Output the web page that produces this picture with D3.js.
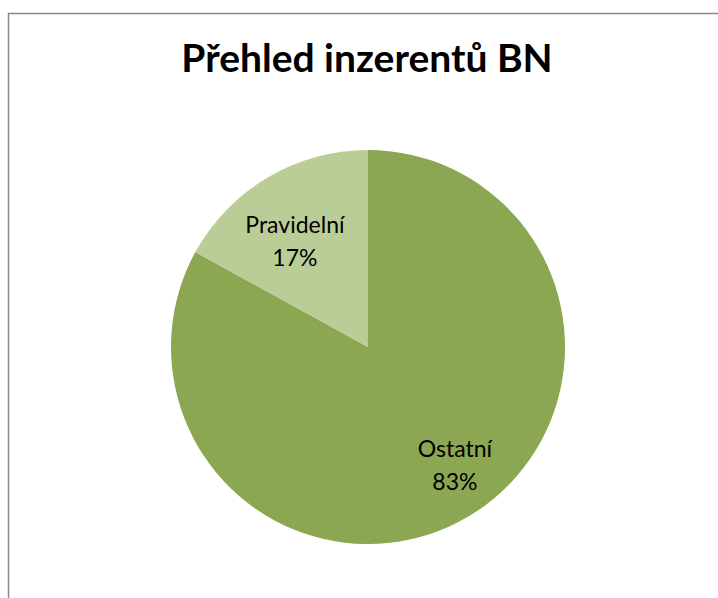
<!DOCTYPE html>
<html>
<head>
<meta charset="utf-8">
<script src="https://cdn.jsdelivr.net/npm/d3@7"></script>
<style>
  body { margin: 0; background: #fff; }
</style>
</head>
<body>
<script>
let width = 718;
let height = 598;

const title = 'Přehled inzerentů BN';
const categories = ['Ostatní', 'Pravidelní'];
const values = [83, 17];
const colors = ['#8ca751', '#bacd97'];

let svg = d3.select('body').append('svg')
	.attr('width', width)
	.attr('height', height);

// chart frame (runs past the picture on the right and bottom)
svg.append('rect')
	.attr('x', 8.5)
	.attr('y', 13.5)
	.attr('width', 720)
	.attr('height', 600)
	.style('fill', '#fff')
	.style('stroke', '#898989')
	.style('stroke-width', 1.5);

svg.append('text')
	.attr('x', 367)
	.attr('y', 72)
	.attr('text-anchor', 'middle')
	.style('font-family', 'Lato, sans-serif')
	.style('font-weight', 'bold')
	.style('font-size', '39px')
	.style('fill', '#000')
	.text(title);

const cx = 368;
const cy = 347;
const r = 197;

const data = categories.map((c, i) => ({ name: c, value: values[i] }));
const pie = d3.pie().sort(null).value(d => d.value);
const arcs = pie(data);

const arc = d3.arc().innerRadius(0).outerRadius(r);

let g = svg.append('g')
	.attr('transform', 'translate(' + cx + ', ' + cy + ')');

g.selectAll('path')
	.data(arcs)
	.enter().append('path')
	.attr('d', arc)
	.style('fill', (d, i) => colors[i]);

// label placement: radius share and angle nudge (degrees) per slice
const labelPos = [0.747, 0.65];
const labelTurn = [-5.6, -4.2];
const total = d3.sum(values);

arcs.forEach((d, i) => {
	const a = (d.startAngle + d.endAngle) / 2 + labelTurn[i] * Math.PI / 180;
	const x = Math.sin(a) * r * labelPos[i];
	const y = -Math.cos(a) * r * labelPos[i];
	const t = g.append('text')
		.attr('text-anchor', 'middle')
		.style('font-family', 'Lato, sans-serif')
		.style('font-size', '23px')
		.style('fill', '#000');
	t.append('tspan')
		.attr('x', x)
		.attr('y', y - 8.5)
		.text(d.data.name);
	t.append('tspan')
		.attr('x', x)
		.attr('y', y + 24.5)
		.text(Math.round(d.data.value / total * 100) + '%');
});
</script>
</body>
</html>
